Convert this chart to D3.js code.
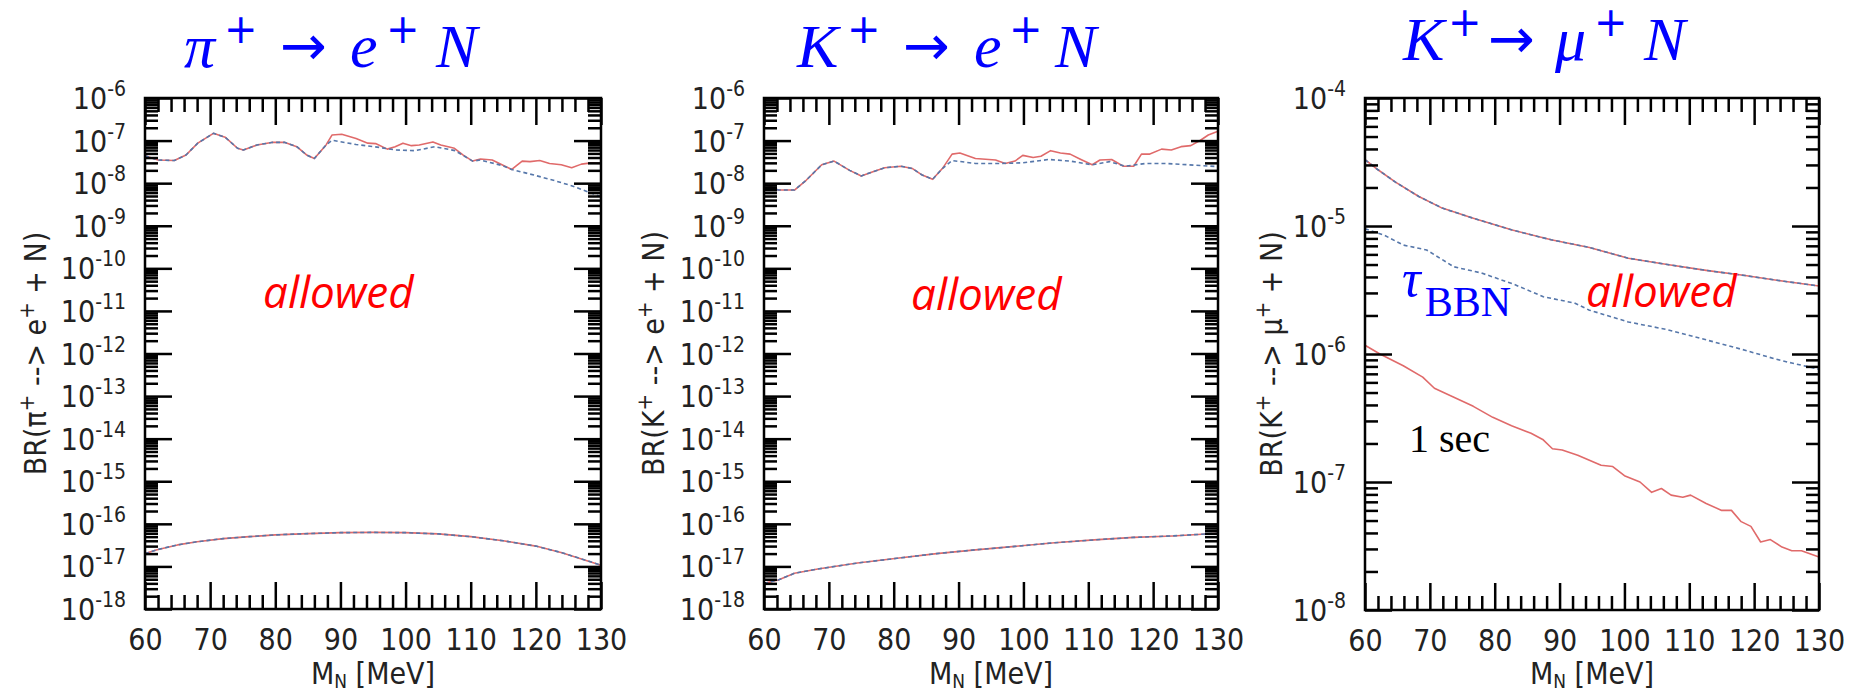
<!DOCTYPE html>
<html>
<head>
<meta charset="utf-8">
<script src="https://cdn.jsdelivr.net/npm/d3@7"></script>
<style>
  html, body { margin: 0; padding: 0; background: #ffffff; }
  svg { display: block; }
  text { white-space: pre; }
</style>
</head>
<body>
<svg id="chart" width="1850" height="693"></svg>
<script>
// ---------------- data ----------------
// heavy neutral lepton mass axis (MeV)
const massTicks = [60, 70, 80, 90, 100, 110, 120, 130];
const massMinorTicks = [62, 64, 66, 68, 72, 74, 76, 78, 82, 84, 86, 88, 92, 94, 96, 98,
                        102, 104, 106, 108, 112, 114, 116, 118, 122, 124, 126, 128];
const minorMultipliers = [2, 3, 4, 5, 6, 7, 8, 9];

// decade exponents shown on the BR axes
const eDecayExponents = [-18, -17, -16, -15, -14, -13, -12, -11, -10, -9, -8, -7, -6];
const muDecayExponents = [-8, -7, -6, -5, -4];

// pi+ -> e+ N : upper bound (solid) and BBN-limited bound (dashed)
const piUpperMass = [60, 62, 64.5, 66.3, 68.1, 70.5, 72.3, 74.2, 75.1, 77.2, 79.6, 81.4, 83.3, 84.8, 86, 87.8,
                     88.7, 90.2, 92.4, 94.2, 95.4, 97.2, 98.4, 99.6, 100.9, 102.1, 104.2, 105.4, 107.5, 108.8,
                     110.3, 111.5, 113.3, 114.8, 116.3, 117.9, 119.1, 120.6, 122.1, 123.9, 125.5, 127, 128.5, 130];
const piUpperBR   = [4.4e-8, 3.5e-8, 3.4e-8, 4.6e-8, 8.7e-8, 1.48e-7, 1.2e-7, 6.6e-8, 6.0e-8, 7.9e-8, 9.1e-8, 9.1e-8, 7.2e-8, 4.6e-8, 3.8e-8, 7.9e-8,
                     1.35e-7, 1.41e-7, 1.12e-7, 8.7e-8, 8.5e-8, 6.3e-8, 7.2e-8, 8.7e-8, 7.6e-8, 7.9e-8, 9.3e-8, 7.9e-8, 6.6e-8, 4.6e-8,
                     3.3e-8, 3.7e-8, 3.5e-8, 2.7e-8, 2.1e-8, 3.3e-8, 3.2e-8, 3.4e-8, 2.9e-8, 2.7e-8, 2.3e-8, 2.8e-8, 3.0e-8, 2.9e-8];
const piBbnMass = [60, 62, 64.5, 66.3, 68.1, 70.5, 72.3, 74.2, 75.1, 77.2, 79.6, 81.4, 83.3, 84.8, 86, 87.8,
                   88.7, 92.4, 96, 98.5, 101.5, 104.5, 107.6, 110.3, 111.5, 114.8, 116.3, 119.7, 122.7, 125.7, 130];
const piBbnBR   = [4.4e-8, 3.5e-8, 3.4e-8, 4.6e-8, 8.7e-8, 1.48e-7, 1.2e-7, 6.6e-8, 6.0e-8, 7.9e-8, 9.1e-8, 9.1e-8, 7.2e-8, 4.6e-8, 3.8e-8, 7.9e-8,
                   1.02e-7, 8.1e-8, 6.9e-8, 6.0e-8, 5.8e-8, 7.2e-8, 5.8e-8, 3.3e-8, 3.5e-8, 2.6e-8, 2.1e-8, 1.55e-8, 1.17e-8, 8.5e-9, 4.8e-9];
// pi+ -> e+ N : lower bound
const piLowerMass = [60, 62, 65, 68, 72, 76, 80, 85, 90, 95, 100, 105, 110, 115, 120, 124, 127, 130];
const piLowerBR   = [2.0e-17, 2.5e-17, 3.2e-17, 3.8e-17, 4.5e-17, 5.0e-17, 5.5e-17, 5.9e-17, 6.2e-17, 6.3e-17,
                     6.2e-17, 5.8e-17, 5.0e-17, 4.0e-17, 3.0e-17, 2.1e-17, 1.5e-17, 1.07e-17];

// K+ -> e+ N : upper bound (solid) and BBN-limited bound (dashed)
const keUpperMass = [60, 62.2, 64.7, 66.5, 68.9, 70.8, 73.2, 75, 76.8, 78.6, 81.1, 82.9, 84.4, 86, 87.5,
                     89, 90.2, 92.6, 95.7, 97.2, 98.7, 99.9, 101.5, 102.7, 104.2, 105.7, 107.2, 108.7, 110.6,
                     111.8, 113.6, 115.4, 117, 118.2, 119.4, 121.3, 122.8, 124.3, 125.8, 127.3, 128.5, 130];
const keUpperBR   = [9.5e-9, 6.9e-9, 6.9e-9, 1.17e-8, 2.7e-8, 3.3e-8, 2.0e-8, 1.48e-8, 1.86e-8, 2.3e-8, 2.5e-8, 2.2e-8, 1.55e-8, 1.23e-8, 2.2e-8,
                     4.8e-8, 5.1e-8, 3.8e-8, 3.5e-8, 2.9e-8, 3.3e-8, 4.5e-8, 4.0e-8, 4.3e-8, 5.8e-8, 5.1e-8, 4.8e-8, 3.7e-8, 2.7e-8,
                     3.5e-8, 3.6e-8, 2.5e-8, 2.5e-8, 4.8e-8, 4.8e-8, 6.3e-8, 6.0e-8, 7.2e-8, 7.6e-8, 1.02e-7, 1.35e-7, 1.66e-7];
const keBbnMass = [60, 62.2, 64.7, 66.5, 68.9, 70.8, 73.2, 75, 76.8, 78.6, 81.1, 82.9, 84.4, 86, 87.5,
                   89, 92.6, 96.3, 99.9, 103.9, 107.2, 110.6, 113.3, 115.7, 118.8, 121.9, 125.5, 130];
const keBbnBR   = [9.5e-9, 6.9e-9, 6.9e-9, 1.17e-8, 2.7e-8, 3.3e-8, 2.0e-8, 1.48e-8, 1.86e-8, 2.3e-8, 2.5e-8, 2.2e-8, 1.55e-8, 1.23e-8, 2.2e-8,
                   3.4e-8, 2.9e-8, 2.9e-8, 3.0e-8, 3.6e-8, 3.3e-8, 2.7e-8, 3.2e-8, 2.5e-8, 2.9e-8, 2.9e-8, 2.7e-8, 2.45e-8];
// K+ -> e+ N : lower bound
const keLowerMass = [60, 62.2, 64.7, 68.3, 74.4, 80.5, 86.6, 92.6, 98.7, 104.8, 110.9, 117, 123, 130];
const keLowerBR   = [4.0e-18, 4.8e-18, 6.9e-18, 8.7e-18, 1.2e-17, 1.55e-17, 2.0e-17, 2.45e-17, 2.95e-17,
                     3.6e-17, 4.2e-17, 4.8e-17, 5.2e-17, 6.0e-17];

// K+ -> mu+ N : upper bound, BBN lifetime bound, 1 sec lifetime bound
const kmuUpperMass = [60, 62, 64.7, 68.3, 71.9, 76.7, 82.7, 88.7, 94.6, 100.6, 106.6, 112.6, 118.6, 124.6, 130];
const kmuUpperBR   = [3.3e-5, 2.75e-5, 2.2e-5, 1.7e-5, 1.38e-5, 1.15e-5, 9.3e-6, 7.8e-6, 6.8e-6, 5.6e-6,
                      5.0e-6, 4.5e-6, 4.1e-6, 3.7e-6, 3.4e-6];
const kmuBbnMass = [60, 62.9, 65.9, 69.5, 73.7, 77.9, 82.7, 87.5, 92.3, 94.6, 100.6, 106.6, 112.6, 118.6, 123.4, 125.8, 130];
const kmuBbnBR   = [9.5e-6, 8.5e-6, 7.1e-6, 6.5e-6, 4.8e-6, 4.3e-6, 3.55e-6, 2.8e-6, 2.5e-6, 2.2e-6,
                    1.78e-6, 1.55e-6, 1.29e-6, 1.07e-6, 9.1e-7, 8.5e-7, 7.6e-7];
const kmuSecMass = [60, 62.3, 65.9, 68.9, 70.7, 73.7, 76.7, 79.7, 82.6, 85.6, 87.4, 88.9, 90.4, 92.8, 96.4, 98.2,
                    100, 102.4, 104.2, 105.7, 107.2, 109, 110.2, 112.6, 115, 116.5, 118, 119.5, 121, 122.5,
                    124.3, 125.8, 127.3, 130];
const kmuSecBR   = [1.17e-6, 1.0e-6, 8.1e-7, 6.6e-7, 5.4e-7, 4.6e-7, 3.9e-7, 3.2e-7, 2.75e-7, 2.4e-7, 2.15e-7, 1.82e-7,
                    1.78e-7, 1.62e-7, 1.35e-7, 1.32e-7, 1.12e-7, 1.0e-7, 8.3e-8, 8.9e-8, 7.9e-8, 7.6e-8, 7.9e-8,
                    6.8e-8, 6.0e-8, 6.0e-8, 4.9e-8, 4.5e-8, 3.4e-8, 3.55e-8, 3.1e-8, 2.9e-8, 2.9e-8, 2.6e-8];

// ---------------- styling ----------------
const SANS = "'Liberation Sans Narrow','Arial Narrow','DejaVu Sans Condensed',sans-serif";
const SERIF = "'Liberation Serif','DejaVu Serif',serif";
const SYMBOL = "'DejaVu Sans',sans-serif";
const ITALIC_SANS = "'Open Sans','Noto Sans',sans-serif";
const RED = "#e06a6a";
const BLUE = "#5677aa";
const TITLE_BLUE = "#0000ff";

const svg = d3.select("#chart");

function styleAxis(g) {
  g.select(".domain").remove();
  g.selectAll("line").attr("stroke", "#000").attr("stroke-width", 2.5);
}
function tickOnly(g) {
  styleAxis(g);
  g.selectAll("text").remove();
}

function drawPanel(p) {
  const g = svg.append("g");
  const x = d3.scaleLinear().domain([60, 130]).range([p.left, p.right]);
  const y = d3.scaleLog().domain([Math.pow(10, p.exps[0]), Math.pow(10, p.exps[p.exps.length - 1])])
                         .range([p.bottom, p.top]);
  const majorY = p.exps.map(e => Math.pow(10, e));
  const minorY = [];
  p.exps.slice(0, -1).forEach(e => minorMultipliers.forEach(k => minorY.push(k * Math.pow(10, e))));

  // curves
  const line = d3.line().x(d => x(d[0])).y(d => y(d[1]));
  p.series.forEach(s => {
    g.append("path")
      .attr("d", line(d3.zip(s.mass, s.br)))
      .attr("fill", "none")
      .attr("stroke", s.color)
      .attr("stroke-width", 1.6)
      .attr("stroke-linejoin", "round")
      .attr("stroke-dasharray", s.dash || null);
  });

  // x axes (bottom with labels, top mirrored)
  g.append("g").attr("transform", `translate(0,${p.bottom})`)
    .call(d3.axisBottom(x).tickValues(massTicks).tickSize(-27).tickPadding(20).tickFormat(d3.format("d")))
    .call(styleAxis)
    .call(a => a.selectAll("text").attr("font-family", SANS).attr("font-size", 30).attr("fill", "#222"));
  g.append("g").attr("transform", `translate(0,${p.bottom})`)
    .call(d3.axisBottom(x).tickValues(massMinorTicks).tickSize(-14))
    .call(tickOnly);
  g.append("g").attr("transform", `translate(0,${p.top})`)
    .call(d3.axisTop(x).tickValues(massTicks).tickSize(-27))
    .call(tickOnly);
  g.append("g").attr("transform", `translate(0,${p.top})`)
    .call(d3.axisTop(x).tickValues(massMinorTicks).tickSize(-14))
    .call(tickOnly);

  // y axes (left with labels, right mirrored)
  g.append("g").attr("transform", `translate(${p.left},0)`)
    .call(d3.axisLeft(y).tickValues(majorY).tickSize(-27))
    .call(tickOnly);
  g.append("g").attr("transform", `translate(${p.left},0)`)
    .call(d3.axisLeft(y).tickValues(minorY).tickSize(-13))
    .call(tickOnly);
  g.append("g").attr("transform", `translate(${p.right},0)`)
    .call(d3.axisRight(y).tickValues(majorY).tickSize(-27))
    .call(tickOnly);
  g.append("g").attr("transform", `translate(${p.right},0)`)
    .call(d3.axisRight(y).tickValues(minorY).tickSize(-13))
    .call(tickOnly);

  // power-of-ten tick labels
  p.exps.forEach(e => {
    const t = g.append("text")
      .attr("x", p.left - 19)
      .attr("y", y(Math.pow(10, e)) + 11)
      .attr("text-anchor", "end")
      .attr("font-family", SANS)
      .attr("fill", "#222");
    t.append("tspan").attr("font-size", 30).text("10");
    t.append("tspan").attr("font-size", 21).attr("dy", -13).text(String(e));
  });

  // frame
  g.append("rect")
    .attr("x", p.left).attr("y", p.top)
    .attr("width", p.right - p.left).attr("height", p.bottom - p.top)
    .attr("fill", "none").attr("stroke", "#000").attr("stroke-width", 2.5);

  // axis titles
  const xt = g.append("text")
    .attr("x", (p.left + p.right) / 2).attr("y", 684)
    .attr("text-anchor", "middle").attr("font-family", SANS).attr("font-size", 30).attr("fill", "#222");
  xt.append("tspan").text("M");
  xt.append("tspan").attr("font-size", 19).attr("dy", 4).text("N");
  xt.append("tspan").attr("dy", -4).text(" [MeV]");

  const yt = g.append("text")
    .attr("transform", `translate(${p.yTitleX},${(p.top + p.bottom) / 2}) rotate(-90)`)
    .attr("text-anchor", "middle").attr("font-family", SANS).attr("font-size", 30).attr("fill", "#222");
  yt.append("tspan").text("BR(" + p.parent);
  yt.append("tspan").attr("font-size", 22).attr("dy", -12).text("+");
  yt.append("tspan").attr("dy", 12).text(" --> " + p.lepton);
  yt.append("tspan").attr("font-size", 22).attr("dy", -12).text("+");
  yt.append("tspan").attr("dy", 12).text(" + N)");

  // "allowed" region label
  g.append("text")
    .attr("x", p.allowed[0]).attr("y", p.allowed[1])
    .attr("font-family", ITALIC_SANS).attr("font-style", "italic")
    .attr("font-size", 44).attr("fill", "#ff0000")
    .text("allowed");

  // decay-channel heading
  p.title.forEach(piece => {
    const font = piece.kind === "letter" ? SERIF : SYMBOL;
    g.append("text")
      .attr("x", piece.x).attr("y", p.titleBase + (piece.rise || 0))
      .attr("font-family", font)
      .attr("font-style", piece.kind === "letter" ? "italic" : "normal")
      .attr("font-size", piece.size)
      .attr("fill", TITLE_BLUE)
      .text(piece.t);
  });
  return { g, x, y };
}

const solid = (mass, br) => ({ mass, br, color: RED });
const dashed = (mass, br) => ({ mass, br, color: BLUE, dash: "4,3" });

// heading glyph helpers
const L = (t, x) => ({ t, x, size: 62, kind: "letter" });
const PLUS = x => ({ t: "+", x, size: 40, rise: -24, kind: "symbol" });
const ARROW = x => ({ t: "→", x, size: 56, rise: -2, kind: "symbol" });

drawPanel({
  left: 145, right: 601, top: 98, bottom: 609, exps: eDecayExponents,
  yTitleX: 46, parent: "π", lepton: "e",
  allowed: [263, 308], titleBase: 67,
  title: [L("π", 184), PLUS(224), ARROW(280), L("e", 350), PLUS(386), L("N", 436)],
  series: [
    solid(piUpperMass, piUpperBR), dashed(piBbnMass, piBbnBR),
    solid(piLowerMass, piLowerBR), dashed(piLowerMass, piLowerBR)
  ]
});

drawPanel({
  left: 764, right: 1218, top: 98, bottom: 609, exps: eDecayExponents,
  yTitleX: 664, parent: "K", lepton: "e",
  allowed: [911, 310], titleBase: 67,
  title: [L("K", 797), PLUS(847), ARROW(903), L("e", 974), PLUS(1009), L("N", 1055)],
  series: [
    solid(keUpperMass, keUpperBR), dashed(keBbnMass, keBbnBR),
    solid(keLowerMass, keLowerBR), dashed(keLowerMass, keLowerBR)
  ]
});

drawPanel({
  left: 1365, right: 1819, top: 98, bottom: 610, exps: muDecayExponents,
  yTitleX: 1282, parent: "K", lepton: "μ",
  allowed: [1586, 307], titleBase: 60,
  title: [L("K", 1403), PLUS(1448), ARROW(1488), L("μ", 1555), PLUS(1594), L("N", 1644)],
  series: [
    solid(kmuUpperMass, kmuUpperBR), dashed(kmuUpperMass, kmuUpperBR),
    dashed(kmuBbnMass, kmuBbnBR),
    solid(kmuSecMass, kmuSecBR)
  ]
});

// lifetime labels in the K+ -> mu+ N panel
const tau = svg.append("text").attr("x", 1402).attr("y", 296)
  .attr("font-family", SERIF).attr("fill", TITLE_BLUE);
tau.append("tspan").attr("font-style", "italic").attr("font-size", 52).text("τ");
tau.append("tspan").attr("font-size", 42).attr("dx", 4).attr("dy", 20).text("BBN");

svg.append("text").attr("x", 1409).attr("y", 452)
  .attr("font-family", SERIF).attr("font-size", 40).attr("fill", "#000")
  .text("1 sec");
</script>
</body>
</html>
